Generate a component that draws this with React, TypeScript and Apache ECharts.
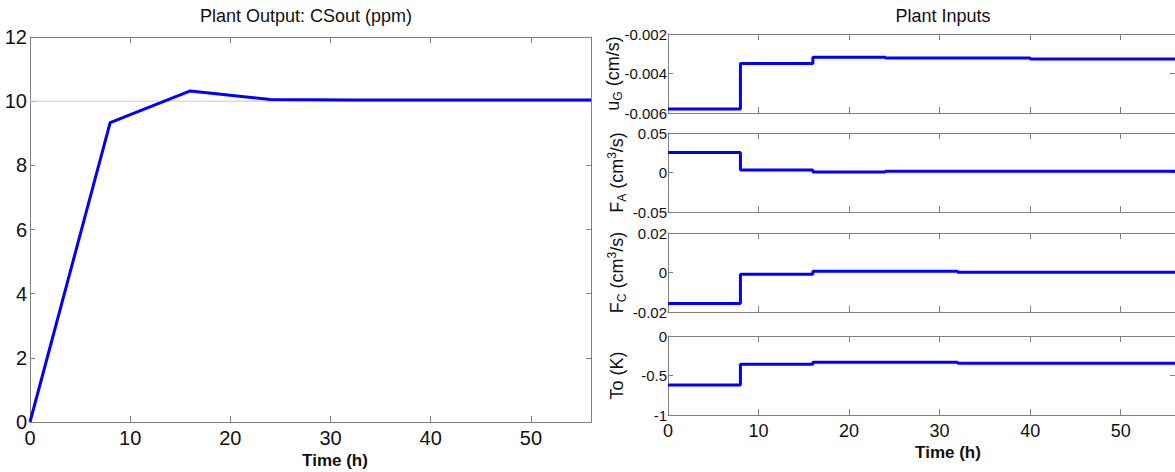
import React, { useEffect, useRef } from "react";
import * as echarts from "echarts";

// ---- data ----
const outTime = [0, 8, 16, 24, 32, 40, 48, 56];
const csOut = [0, 9.33, 10.32, 10.05, 10.04, 10.04, 10.04, 10.04];
const setpointTime = [0, 56];
const setpoint = [10, 10];

const inTime = [0, 8, 16, 24, 32, 40, 48, 56];
const uG = [-0.0058, -0.00349, -0.00318, -0.00322, -0.00322, -0.00327, -0.00327, -0.00327];
const FA = [0.0254, 0.0032, 0.0006, 0.0015, 0.0015, 0.0015, 0.0015, 0.0015];
const FC = [-0.0157, -0.0009, 0.0006, 0.0006, 0.0001, 0.0001, 0.0001, 0.0001];
const To = [-0.62, -0.358, -0.333, -0.333, -0.346, -0.346, -0.346, -0.346];

const leftYTicks = { min: 0, max: 12, interval: 2 };
const panelRanges = [
  { min: -0.006, max: -0.002, interval: 0.002 },
  { min: -0.05, max: 0.05, interval: 0.05 },
  { min: -0.02, max: 0.02, interval: 0.02 },
  { min: -1, max: 0, interval: 0.5 },
];
const panelNames = [
  "{a|u}{sub|G}{a| (cm/s)}",
  "{a|F}{sub|A}{a| (cm}{sup|3}{a|/s)}",
  "{a|F}{sub|C}{a| (cm}{sup|3}{a|/s)}",
  "{a|To (K)}",
];
const panelData = [uG, FA, FC, To];

const FONT = "'Liberation Sans Narrow', 'Arial Narrow', 'Liberation Sans', Arial, sans-serif";
const FONT2 = "'Liberation Sans', Arial, sans-serif";
const AXIS_COLOR = "#808080";
const BLUE = "#0000ff";

const pair = (xs: number[], ys: number[]) => xs.map((x, i) => [x, ys[i]]);

export default function App() {
  const ref = useRef<HTMLDivElement>(null);
  useEffect(() => {
    if (!ref.current) return;
    const chart = echarts.init(ref.current, null, { renderer: "svg" });

    const grids: any[] = [
      { left: 30, top: 37, width: 561, height: 385 },
      { left: 668, right: 0, top: 34, height: 79 },
      { left: 668, right: 0, top: 133, height: 79 },
      { left: 668, right: 0, top: 233, height: 79 },
      { left: 668, right: 0, top: 336, height: 79 },
    ];

    const xAxes: any[] = [];
    const yAxes: any[] = [];
    grids.forEach((_, gi) => {
      const showX = gi === 0 || gi === 4;
      const axisBase = {
        type: "value",
        gridIndex: gi,
        min: 0,
        max: 56,
        interval: 10,
        splitLine: { show: false },
        axisLine: { show: true, onZero: false, lineStyle: { color: AXIS_COLOR, width: 1 } },
        axisTick: { show: true, inside: true, length: 6, lineStyle: { color: AXIS_COLOR } },
      };
      xAxes.push({
        ...axisBase,
        position: "bottom",
        axisLabel: {
          show: showX,
          showMaxLabel: false,
          fontFamily: FONT,
          fontSize: gi === 0 ? 20 : 18,
          color: "#111",
          margin: gi === 0 ? 6 : 7,
        },
      });
      xAxes.push({ ...axisBase, position: "top", axisLabel: { show: false } });

      const r = gi === 0 ? leftYTicks : panelRanges[gi - 1];
      const yBase = {
        type: "value",
        gridIndex: gi,
        min: r.min,
        max: r.max,
        interval: r.interval,
        splitLine: { show: false },
        axisLine: { show: true, onZero: false, lineStyle: { color: AXIS_COLOR, width: 1 } },
        axisTick: { show: true, inside: true, length: 5, lineStyle: { color: AXIS_COLOR } },
      };
      yAxes.push({
        ...yBase,
        position: "left",
        axisLabel: {
          show: true,
          fontFamily: FONT,
          fontSize: gi === 0 ? 20 : 15,
          color: "#111",
          margin: gi === 0 ? 3 : 1,
          formatter: (v: number) => {
            if (Math.abs(v) < 1e-12) return "0";
            return String(parseFloat(v.toFixed(6)));
          },
        },
        name: gi === 0 ? "" : panelNames[gi - 1],
        nameLocation: "middle",
        nameRotate: 90,
        nameGap: gi === 1 ? 44 : 40,
        nameMoveOverlap: false,
        nameTextStyle: {
          color: "#111",
          fontFamily: FONT2,
          rich: {
            a: { fontSize: 18, fontFamily: FONT2, color: "#111", lineHeight: 22 },
            sub: { fontSize: 12, fontFamily: FONT2, color: "#111", verticalAlign: "bottom", lineHeight: 22 },
            sup: { fontSize: 12, fontFamily: FONT2, color: "#111", verticalAlign: "top", lineHeight: 22 },
          },
        },
      });
      yAxes.push({ ...yBase, position: "right", axisLabel: { show: false } });
    });

    const series: any[] = [
      {
        type: "line",
        xAxisIndex: 0,
        yAxisIndex: 0,
        data: pair(setpointTime, setpoint),
        showSymbol: false,
        lineStyle: { color: "#c8c8c8", width: 1 },
        z: 1,
      },
      {
        type: "line",
        xAxisIndex: 0,
        yAxisIndex: 0,
        data: pair(outTime, csOut),
        showSymbol: false,
        lineStyle: { color: BLUE, width: 3 },
        z: 2,
      },
    ];
    panelData.forEach((d, i) => {
      const gi = i + 1;
      series.push({
        type: "line",
        xAxisIndex: gi * 2,
        yAxisIndex: gi * 2,
        data: pair(inTime, d),
        step: "end",
        showSymbol: false,
        lineStyle: { color: BLUE, width: 3 },
        z: 2,
      });
    });

    const textStyle = (text: string, bold = false) => ({
      text,
      fontFamily: FONT2,
      fontSize: bold ? 17 : 18,
      fontWeight: bold ? "bold" : "normal",
      fill: "#111",
      textAlign: "center",
      textVerticalAlign: "middle",
    });

    chart.setOption({
      animation: false,
      backgroundColor: "#ffffff",
      grid: grids,
      xAxis: xAxes,
      yAxis: yAxes,
      series,
      graphic: [
        { type: "text", x: 306, y: 16, style: textStyle("Plant Output: CSout (ppm)") },
        { type: "text", x: 943, y: 16, style: textStyle("Plant Inputs") },
        { type: "text", x: 335, y: 460, style: textStyle("Time (h)", true) },
        { type: "text", x: 948, y: 452, style: textStyle("Time (h)", true) },
      ],
    });
    return () => chart.dispose();
  }, []);

  return (
    <div
      ref={ref}
      style={{ position: "absolute", left: 0, top: 0, width: 1175, height: 472 }}
    />
  );
}
